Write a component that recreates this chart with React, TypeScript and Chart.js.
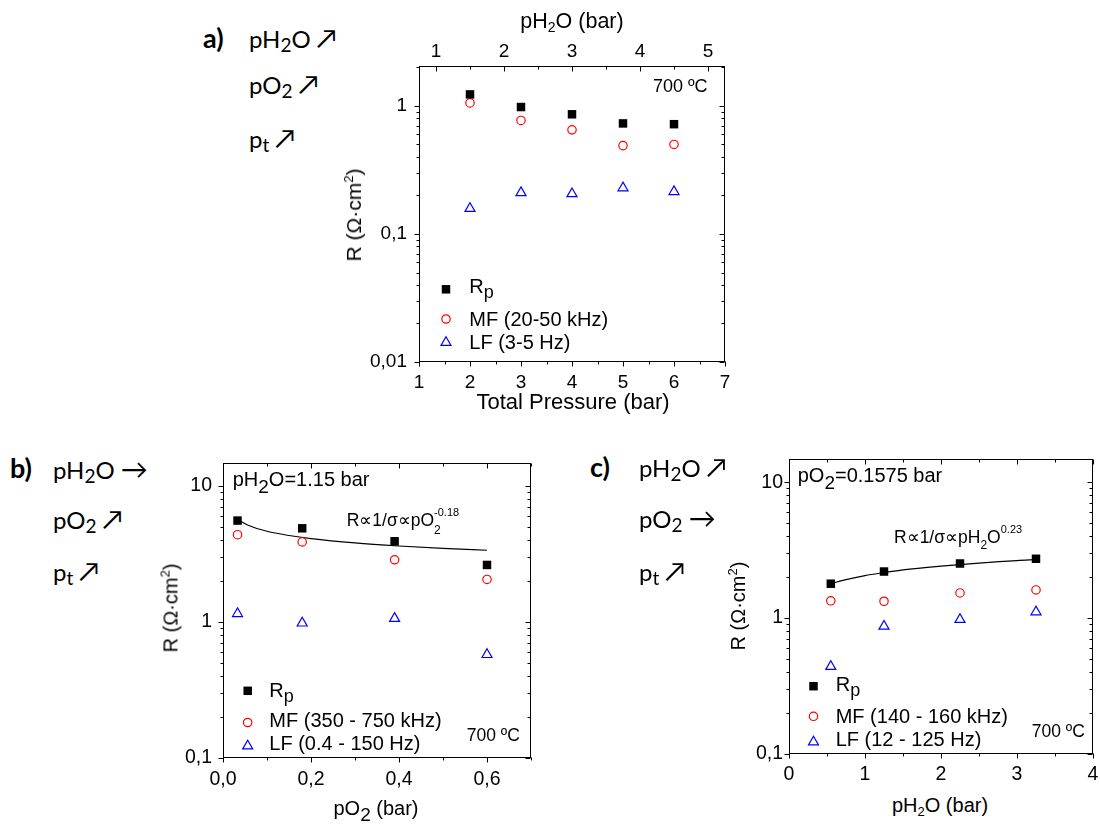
import React, { useEffect, useRef } from "react";
import { Chart, registerables } from "chart.js";
import { drawPoint } from "chart.js/helpers";
Chart.register(...registerables);

const SANS = "'Liberation Sans', Arial, Helvetica, sans-serif";
const LATO = "Lato, 'Open Sans', sans-serif";
Chart.defaults.font.family = SANS;

// ---------- Panel a : total pressure ----------
const aTotalPressure = [2, 3, 4, 5, 6];
const aRp = [1.23, 0.98, 0.86, 0.73, 0.72];
const aMF = [1.055, 0.77, 0.65, 0.49, 0.5];
const aLF = [0.158, 0.21, 0.206, 0.229, 0.214];
const aXTicks = [1, 2, 3, 4, 5, 6, 7];
const aXTickLabels = ["1", "2", "3", "4", "5", "6", "7"];
const aTopTicks = [1, 2, 3, 4, 5];
const aTopTickLabels = ["1", "2", "3", "4", "5"];
const aYTicks = [0.01, 0.1, 1];
const aYTickLabels = ["0,01", "0,1", "1"];

// ---------- Panel b : pO2 ----------
const bPO2 = [0.033, 0.18, 0.39, 0.6];
const bRp = [5.55, 4.87, 3.91, 2.62];
const bMF = [4.37, 3.87, 2.86, 2.05];
const bLF = [1.15, 0.98, 1.06, 0.575];
const bFitPO2 = [0.033, 0.06, 0.1, 0.15, 0.2, 0.3, 0.4, 0.5, 0.6];
const bFitR = [5.66, 5.08, 4.63, 4.31, 4.09, 3.8, 3.61, 3.47, 3.36];
const bXTicks = [0, 0.2, 0.4, 0.6];
const bXTickLabels = ["0,0", "0,2", "0,4", "0,6"];
const bYTicks = [0.1, 1, 10];
const bYTickLabels = ["0,1", "1", "10"];

// ---------- Panel c : pH2O ----------
const cPH2O = [0.55, 1.25, 2.25, 3.25];
const cRp = [1.79, 2.2, 2.52, 2.73];
const cMF = [1.34, 1.33, 1.53, 1.61];
const cLF = [0.44, 0.87, 0.975, 1.11];
const cFitPH2O = [0.55, 0.75, 1, 1.25, 1.5, 2, 2.5, 3, 3.25];
const cFitR = [1.79, 1.92, 2.055, 2.16, 2.26, 2.41, 2.54, 2.65, 2.69];
const cXTicks = [0, 1, 2, 3, 4];
const cXTickLabels = ["0", "1", "2", "3", "4"];
const cYTicks = [0.1, 1, 10];
const cYTickLabels = ["0,1", "1", "10"];

const STYLE_RP = { pointStyle: "rect", radius: 6, fill: "#000000", stroke: "#000000", width: 0 };
const STYLE_MF = { pointStyle: "circle", radius: 4.2, fill: "rgba(0,0,0,0)", stroke: "#ff0000", width: 1.2 };
const STYLE_LF = { pointStyle: "triangle", radius: 5.8, fill: "rgba(0,0,0,0)", stroke: "#0000ff", width: 1.2 };

function pointSet(xs: number[], ys: number[], st: any) {
  return {
    data: xs.map((x, i) => ({ x, y: ys[i] })),
    showLine: false,
    pointStyle: st.pointStyle,
    pointRadius: st.radius,
    backgroundColor: st.fill,
    borderColor: st.stroke,
    borderWidth: st.width,
  };
}
function fitSet(xs: number[], ys: number[]) {
  return {
    data: xs.map((x, i) => ({ x, y: ys[i] })),
    showLine: true,
    pointRadius: 0,
    borderColor: "#000000",
    borderWidth: 1.2,
    cubicInterpolationMode: "monotone",
    fill: false,
  };
}

function linMinor(major: number[], min: number, max: number) {
  const step = (major[1] - major[0]) / 2;
  const out: number[] = [];
  for (let i = Math.ceil(min / step - 1e-9); i * step <= max + 1e-9; i++) {
    const v = +(i * step).toFixed(6);
    if (!major.some((m) => Math.abs(m - v) < 1e-9)) out.push(v);
  }
  return out;
}
function logMinor(min: number, max: number) {
  const out: number[] = [];
  for (let d = Math.floor(Math.log10(min)); d <= Math.ceil(Math.log10(max)); d++) {
    for (let k = 2; k <= 9; k++) {
      const v = +(k * Math.pow(10, d)).toPrecision(6);
      if (v >= min * (1 - 1e-9) && v <= max * (1 + 1e-9)) out.push(v);
    }
  }
  return out;
}

function mkAxis(type: string, min: number, max: number, ticks: number[], labels: string[], size: number, pad: number, font: number, show: boolean) {
  const minor = type === "logarithmic" ? logMinor(min, max) : linMinor(ticks, min, max);
  return { type, min, max, ticks, labels, size, pad, font, show, minor };
}

function scaleCfg(ax: any, position: string) {
  const horizontal = position === "top" || position === "bottom";
  const inRange = (v: number) => v >= ax.min - 1e-9 && v <= ax.max + 1e-9;
  const all = [...ax.ticks.filter(inRange), ...ax.minor].sort((p: number, q: number) => p - q);
  return {
    type: ax.type,
    position,
    min: ax.min,
    max: ax.max,
    bounds: "data",
    grid: { display: false, drawTicks: false },
    border: { display: false },
    ticks: {
      display: ax.show,
      autoSkip: false,
      maxRotation: 0,
      minRotation: 0,
      padding: ax.pad,
      color: "#000000",
      font: { family: SANS, size: ax.font },
      callback: (value: any) => {
        const v = Number(value);
        const i = ax.ticks.findIndex((m: number) => Math.abs(m - v) <= 1e-6 * Math.max(Math.abs(m), 1e-6));
        return i >= 0 ? ax.labels[i] : "";
      },
    },
    afterBuildTicks: (s: any) => {
      s.ticks = all.map((v: number) => ({ value: v }));
    },
    afterFit: (s: any) => {
      if (horizontal) s.height = ax.size;
      else s.width = ax.size;
      s.paddingLeft = 0;
      s.paddingRight = 0;
      s.paddingTop = 0;
      s.paddingBottom = 0;
    },
  };
}

function framePlugin(spec: any) {
  return {
    id: "frameTicks",
    afterDraw(chart: any) {
      const { ctx, chartArea: ca, scales } = chart;
      const L = Math.round(ca.left) + 0.5;
      const R = Math.round(ca.right) - 0.5;
      const T = Math.round(ca.top) + 0.5;
      const B = Math.round(ca.bottom) - 0.5;
      ctx.save();
      ctx.strokeStyle = "#000000";
      ctx.lineWidth = 1;
      ctx.strokeRect(L, T, R - L, B - T);
      const sides: [string, string][] = [["x", "bottom"], ["x2", "top"], ["y", "left"], ["y2", "right"]];
      sides.forEach(([id, side]) => {
        const s = scales[id];
        const ax = spec.axes[id];
        const seg = (v: number, len: number) => {
          if (v < ax.min - 1e-9 || v > ax.max + 1e-9) return;
          const p = Math.round(s.getPixelForValue(v)) + 0.5;
          ctx.beginPath();
          if (side === "bottom") { ctx.moveTo(p, B); ctx.lineTo(p, B + len); }
          if (side === "top") { ctx.moveTo(p, T); ctx.lineTo(p, T + len); }
          if (side === "left") { ctx.moveTo(L, p); ctx.lineTo(L - len, p); }
          if (side === "right") { ctx.moveTo(R, p); ctx.lineTo(R - len, p); }
          ctx.stroke();
        };
        ax.ticks.forEach((v: number) => seg(v, 5));
        ax.minor.forEach((v: number) => seg(v, 3));
      });
      // legend markers
      const styles = [STYLE_RP, STYLE_MF, STYLE_LF];
      spec.legend.ys.forEach((yy: number, i: number) => {
        const st: any = styles[i];
        ctx.fillStyle = st.fill;
        ctx.strokeStyle = st.stroke;
        ctx.lineWidth = st.width;
        drawPoint(ctx, { pointStyle: st.pointStyle, radius: st.radius, borderWidth: st.width, rotation: 0 } as any,
          spec.legend.x - spec.x, yy - spec.y);
      });
      ctx.restore();
    },
  };
}

function buildConfig(spec: any) {
  return {
    type: "scatter",
    data: { datasets: spec.datasets },
    options: {
      responsive: false,
      animation: false,
      events: [],
      layout: { padding: 0 },
      plugins: { legend: { display: false }, tooltip: { enabled: false }, title: { display: false } },
      scales: {
        x: scaleCfg(spec.axes.x, "bottom"),
        x2: scaleCfg(spec.axes.x2, "top"),
        y: scaleCfg(spec.axes.y, "left"),
        y2: scaleCfg(spec.axes.y2, "right"),
      },
    },
    plugins: [framePlugin(spec)],
  };
}

const panelA = {
  x: 360, y: 30, w: 385, h: 370,
  axes: {
    x: mkAxis("linear", 1, 7, aXTicks, aXTickLabels, 38, 9, 19, true),
    x2: mkAxis("linear", 0.75, 5.25, aTopTicks, aTopTickLabels, 36, 3, 19, true),
    y: mkAxis("logarithmic", 0.01, 2.05, aYTicks, aYTickLabels, 59, 12, 19, true),
    y2: mkAxis("logarithmic", 0.01, 2.05, aYTicks, aYTickLabels, 20, 0, 19, false),
  },
  datasets: [
    pointSet(aTotalPressure, aRp, STYLE_RP),
    pointSet(aTotalPressure, aMF, STYLE_MF),
    pointSet(aTotalPressure, aLF, STYLE_LF),
  ],
  legend: { x: 446, ys: [289.3, 319, 342.5] },
};

const panelB = {
  x: 160, y: 440, w: 390, h: 360,
  axes: {
    x: mkAxis("linear", 0, 0.7, bXTicks, bXTickLabels, 42, 10, 19.5, true),
    x2: mkAxis("linear", 0, 0.7, bXTicks, bXTickLabels, 23, 0, 19.5, false),
    y: mkAxis("logarithmic", 0.1, 14.7, bYTicks, bYTickLabels, 63, 11, 19.5, true),
    y2: mkAxis("logarithmic", 0.1, 14.7, bYTicks, bYTickLabels, 19, 0, 19.5, false),
  },
  datasets: [
    pointSet(bPO2, bRp, STYLE_RP),
    pointSet(bPO2, bMF, STYLE_MF),
    pointSet(bPO2, bLF, STYLE_LF),
    fitSet(bFitPO2, bFitR),
  ],
  legend: { x: 247.7, ys: [690.8, 722.5, 746] },
};

const panelC = {
  x: 725, y: 440, w: 375, h: 350,
  axes: {
    x: mkAxis("linear", 0, 4, cXTicks, cXTickLabels, 36, 9, 19.5, true),
    x2: mkAxis("linear", 0, 4, cXTicks, cXTickLabels, 19, 0, 19.5, false),
    y: mkAxis("logarithmic", 0.1, 14.8, cYTicks, cYTickLabels, 64, 6, 19.5, true),
    y2: mkAxis("logarithmic", 0.1, 14.8, cYTicks, cYTickLabels, 4, 0, 19.5, false),
  },
  datasets: [
    pointSet(cPH2O, cRp, STYLE_RP),
    pointSet(cPH2O, cMF, STYLE_MF),
    pointSet(cPH2O, cLF, STYLE_LF),
    fitSet(cFitPH2O, cFitR),
  ],
  legend: { x: 813.5, ys: [686.2, 716.3, 742] },
};

function Panel({ spec }: { spec: any }) {
  const ref = useRef<HTMLCanvasElement>(null);
  useEffect(() => {
    const chart = new Chart(ref.current as HTMLCanvasElement, buildConfig(spec) as any);
    return () => chart.destroy();
  }, []);
  return (
    <canvas
      ref={ref}
      width={spec.w}
      height={spec.h}
      style={{ position: "absolute", left: spec.x, top: spec.y, width: spec.w, height: spec.h }}
    />
  );
}

function Txt({ x, y, size, family = SANS, k = 0.8465, bold = false, center = false, children }: any) {
  const style: any = {
    position: "absolute",
    left: x,
    top: y - k * size,
    fontSize: size,
    lineHeight: `${size}px`,
    fontFamily: family,
    fontWeight: bold ? 700 : 400,
    whiteSpace: "nowrap",
    color: "#000",
  };
  if (center) style.transform = "translateX(-50%)";
  return <div style={style}>{children}</div>;
}
function VTxt({ cx, cy, size, children }: any) {
  return (
    <div
      style={{
        position: "absolute",
        left: cx,
        top: cy,
        transform: "translate(-50%,-50%) rotate(-90deg)",
        fontSize: size,
        lineHeight: `${size}px`,
        fontFamily: SANS,
        whiteSpace: "nowrap",
        color: "#000",
      }}
    >
      {children}
    </div>
  );
}
function Sh({ dy, s, ml, children }: any) {
  return <span style={{ position: "relative", top: dy, fontSize: s, marginLeft: ml || 0 }}>{children}</span>;
}

function Conditions({ x, label, labelX, ys, arrows }: any) {
  const S = 24;
  const A = (a: string) => <span style={{ fontSize: 27, marginLeft: 6 }}>{a}</span>;
  return (
    <>
      <Txt x={labelX} y={ys[0]} size={27} family={LATO} k={0.887} bold>{label}</Txt>
      <Txt x={x} y={ys[0]} size={S} family={LATO} k={0.887}>pH<Sh dy={4} s={19}>2</Sh>O{A(arrows[0])}</Txt>
      <Txt x={x} y={ys[1]} size={S} family={LATO} k={0.887}>pO<Sh dy={4} s={19}>2</Sh>{A(arrows[1])}</Txt>
      <Txt x={x} y={ys[2]} size={S} family={LATO} k={0.887}>p<Sh dy={4} s={19}>t</Sh>{A(arrows[2])}</Txt>
    </>
  );
}

const RAXIS = (
  <>
    R (Ω·cm<Sh dy={-8} s={13}>2</Sh>)
  </>
);

export default function App() {
  return (
    <div style={{ position: "absolute", left: 0, top: 0, width: 1100, height: 826, background: "#fff", overflow: "hidden" }}>
      <Panel spec={panelA} />
      <Panel spec={panelB} />
      <Panel spec={panelC} />

      {/* condition labels */}
      <Conditions label="a)" labelX={203} x={249} ys={[47.7, 93, 147]} arrows={["↗", "↗", "↗"]} />
      <Conditions label="b)" labelX={10} x={53} ys={[478, 528, 580]} arrows={["→", "↗", "↗"]} />
      <Conditions label="c)" labelX={590} x={639} ys={[476.7, 527, 580]} arrows={["↗", "→", "↗"]} />

      {/* panel a texts */}
      <Txt x={572} y={29.3} size={21.5} center>pH<Sh dy={4} s={14}>2</Sh>O (bar)</Txt>
      <Txt x={573} y={409.3} size={22} center>Total Pressure (bar)</Txt>
      <VTxt cx={355} cy={215} size={21}>{RAXIS}</VTxt>
      <Txt x={653} y={92.3} size={18}>700 ºC</Txt>
      <Txt x={469.3} y={293.3} size={20}>R<Sh dy={5} s={18}>p</Sh></Txt>
      <Txt x={469.3} y={325.7} size={20}>MF (20-50 kHz)</Txt>
      <Txt x={469.3} y={349} size={20}>LF (3-5 Hz)</Txt>

      {/* panel b texts */}
      <VTxt cx={172} cy={608} size={20}>{RAXIS}</VTxt>
      <Txt x={376} y={815} size={20} center>pO<Sh dy={6} s={19}>2</Sh> (bar)</Txt>
      <Txt x={232.7} y={486} size={20}>pH<Sh dy={6.5} s={19}>2</Sh>O=1.15 bar</Txt>
      <Txt x={346.7} y={527.3} size={17.5}>R∝1/σ∝pO<Sh dy={8} s={12}>2</Sh><Sh dy={-10} s={11} ml={-6.7}>-0.18</Sh></Txt>
      <Txt x={466.7} y={742.3} size={17.5}>700 ºC</Txt>
      <Txt x={269.3} y={696.7} size={20}>R<Sh dy={5} s={18}>p</Sh></Txt>
      <Txt x={269.3} y={726.7} size={20}>MF (350 - 750 kHz)</Txt>
      <Txt x={269.3} y={750} size={20}>LF (0.4 - 150 Hz)</Txt>

      {/* panel c texts */}
      <VTxt cx={739} cy={606} size={20}>{RAXIS}</VTxt>
      <Txt x={940} y={811.7} size={20} center>pH<Sh dy={4} s={13}>2</Sh>O (bar)</Txt>
      <Txt x={797.7} y={482} size={20}>pO<Sh dy={7} s={19}>2</Sh>=0.1575 bar</Txt>
      <Txt x={894} y={544} size={17.5}>R∝1/σ∝pH<Sh dy={6} s={12}>2</Sh>O<Sh dy={-10} s={11}>0.23</Sh></Txt>
      <Txt x={1031.7} y={738.3} size={17.5}>700 ºC</Txt>
      <Txt x={835.7} y={690.7} size={20}>R<Sh dy={5} s={18}>p</Sh></Txt>
      <Txt x={835.7} y={722.7} size={20}>MF (140 - 160 kHz)</Txt>
      <Txt x={835.7} y={746} size={20}>LF (12 - 125 Hz)</Txt>
    </div>
  );
}
